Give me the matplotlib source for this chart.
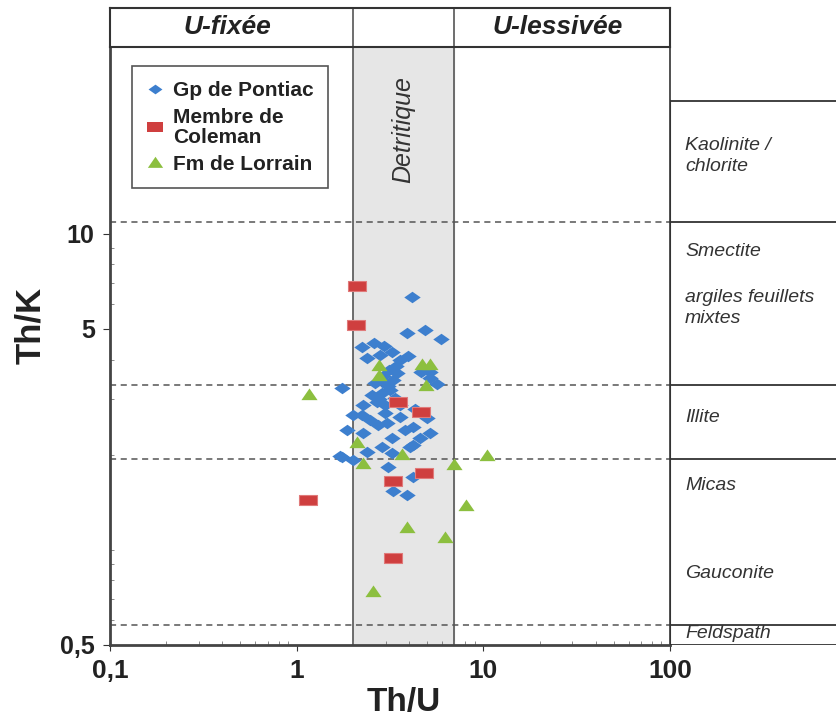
import matplotlib.pyplot as plt
from matplotlib.lines import Line2D

plt.rcParams['font.family'] = ['Liberation Sans', 'DejaVu Sans']

# Gp de Pontiac (Th/U, Th/K)
pontiac_x = [4.15, 3.90, 4.87, 5.93, 2.24, 2.59, 2.94, 3.24, 2.38, 2.79,
             3.58, 3.95, 3.12, 3.40, 4.63, 5.21, 5.21, 1.75, 2.97, 5.64,
             3.44, 2.63, 2.86, 2.69, 3.16, 3.36, 2.27, 2.24, 2.00, 2.97,
             3.58, 3.05, 4.99, 4.30, 1.86, 2.27, 3.24, 4.20, 5.21, 4.58,
             4.05, 2.86, 2.38, 3.24, 1.71, 2.00, 3.08, 4.20, 3.28, 3.90,
             4.20, 2.53, 2.97, 3.58, 2.47, 2.72, 3.80, 1.75, 2.90, 3.10,
             2.75, 3.30]
pontiac_y = [6.31, 4.86, 4.96, 4.65, 4.39, 4.51, 4.42, 4.23, 4.05, 4.14,
             3.99, 4.11, 3.71, 3.82, 3.66, 3.66, 3.50, 3.25, 3.40, 3.35,
             3.63, 3.37, 3.14, 2.94, 3.21, 3.02, 2.87, 2.67, 2.67, 2.71,
             2.63, 2.52, 2.62, 2.79, 2.39, 2.34, 2.26, 2.45, 2.34, 2.26,
             2.12, 2.12, 2.04, 2.03, 1.98, 1.92, 1.83, 1.70, 1.54, 1.49,
             2.15, 3.09, 2.87, 2.87, 2.58, 2.48, 2.39, 1.97, 3.55, 3.30,
             3.00, 3.45]

# Membre de Coleman
coleman_x = [2.10, 2.08, 3.49, 4.63, 4.81, 3.28, 1.15, 3.28]
coleman_y = [6.84, 5.15, 2.94, 2.73, 1.75, 1.65, 1.44, 0.94]

# Fm de Lorrain
lorrain_x = [1.16, 2.76, 2.76, 4.69, 5.18, 4.93, 2.10, 3.66, 2.27, 6.96,
             10.45, 8.07, 3.90, 6.23, 2.56]
lorrain_y = [3.11, 3.85, 3.58, 3.87, 3.87, 3.33, 2.19, 2.01, 1.88, 1.87,
             2.00, 1.39, 1.18, 1.10, 0.74]

# limites Th/K des domaines mineraux
limites = [0.58, 1.94, 3.33, 10.9]
haut_panneau = 26.3
detritique = [2, 7]

mineraux = ['Kaolinite /\nchlorite', 'Smectite', 'argiles feuillets\nmixtes',
            'Illite', 'Micas', 'Gauconite', 'Feldspath']
mineraux_y = [17.6, 8.76, 5.83, 2.63, 1.60, 0.84, 0.545]

x_ticks = [0.1, 1, 10, 100]
x_labels = ['0,1', '1', '10', '100']
y_ticks = [0.5, 5, 10]
y_labels = ['0,5', '5', '10']

xlim = (0.1, 100)
ylim = (0.5, 39)

bleu = '#3d7fce'
rouge = '#cf3f3f'
vert = '#8cbf3f'
trait = '#333333'

diamant = [(-1, 0), (0, 0.7), (1, 0), (0, -0.7), (-1, 0)]
rect = [(-1, -0.6), (1, -0.6), (1, 0.6), (-1, 0.6), (-1, -0.6)]
tri = [(-1, -0.7), (1, -0.7), (0, 0.75), (-1, -0.7)]

W, H = 837, 722
fig = plt.figure(figsize=(W / 100, H / 100), dpi=100)

# graphe principal
ax = fig.add_axes([110 / W, 77 / H, 560 / W, 598 / H])
ax.set_xscale('log')
ax.set_yscale('log')
ax.set_xlim(*xlim)
ax.set_ylim(*ylim)

ax.axvspan(detritique[0], detritique[1], color='#e6e6e6', zorder=0)
for v in detritique:
    ax.axvline(v, color='#555555', lw=1.2, zorder=1)
for l in limites:
    ax.axhline(l, color='#555555', lw=1.1, ls=(0, (4, 3)), zorder=1)

ax.scatter(pontiac_x, pontiac_y, marker=diamant, s=140, color=bleu, lw=0, zorder=3)
ax.scatter(coleman_x, coleman_y, marker=rect, s=165, color=rouge,
           edgecolor='#e07a7a', lw=0.8, zorder=4)
ax.scatter(lorrain_x, lorrain_y, marker=tri, s=135, color=vert, lw=0, zorder=4)

ax.text(3.74, 21.3, 'Detritique', rotation=90, ha='center', va='center',
        fontsize=18, style='italic', color='#333333')

ax.set_xticks(x_ticks)
ax.set_xticklabels(x_labels, fontsize=19, fontweight='bold', color='#222222')
ax.set_xticks([m * d for d in [0.1, 1, 10] for m in range(2, 10)], minor=True)
ax.set_xticklabels([], minor=True)
ax.set_yticks(y_ticks)
ax.set_yticklabels(y_labels, fontsize=18, fontweight='bold', color='#222222')
ax.set_yticks([0.6, 0.7, 0.8, 0.9, 1, 2, 3, 4, 6, 7, 8, 9], minor=True)
ax.set_yticklabels([], minor=True)
ax.tick_params(axis='x', which='major', direction='out', length=4, pad=6, color=trait)
ax.tick_params(axis='y', which='major', direction='out', length=5, pad=6, color=trait)
ax.tick_params(which='minor', direction='in', length=3, color='#777777')

for s in ['left', 'bottom']:
    ax.spines[s].set_linewidth(2)
    ax.spines[s].set_color('#444444')
for s in ['top', 'right']:
    ax.spines[s].set_linewidth(1.2)
    ax.spines[s].set_color(trait)

handles = [
    Line2D([], [], ls='none', marker=diamant, markersize=10, color=bleu, mew=0),
    Line2D([], [], ls='none', marker=rect, markersize=12, color=rouge, mew=0),
    Line2D([], [], ls='none', marker=tri, markersize=11, color=vert, mew=0),
]
leg = ax.legend(handles, ['Gp de Pontiac', 'Membre de\nColeman', 'Fm de Lorrain'],
                loc='upper left', bbox_to_anchor=(0.02, 0.985), frameon=True,
                fancybox=False, edgecolor='#555555', framealpha=1,
                handlelength=0.8, handletextpad=0.5, labelspacing=0.38,
                borderpad=0.7, prop={'size': 15, 'weight': 'bold'})
leg.get_frame().set_linewidth(1.2)
for t in leg.get_texts():
    t.set_color('#222222')
    t.set_linespacing(1.05)

# bandeau du haut
hdr = fig.add_axes([110 / W, (H - 47) / H, 560 / W, 39 / H])
hdr.set_xscale('log')
hdr.set_xlim(*xlim)
hdr.set_ylim(0, 1)
hdr.set_xticks([])
hdr.set_yticks([])
hdr.minorticks_off()
for v in detritique:
    hdr.axvline(v, color='#555555', lw=1.2)
for s in hdr.spines.values():
    s.set_linewidth(1.5)
    s.set_color(trait)
hdr.text(0.21, 0.5, 'U-fixée', transform=hdr.transAxes, ha='center', va='center',
         fontsize=19, fontweight='bold', style='italic', color='#222222')
hdr.text(0.80, 0.5, 'U-lessivée', transform=hdr.transAxes, ha='center', va='center',
         fontsize=19, fontweight='bold', style='italic', color='#222222')

# panneau des mineraux
rp = fig.add_axes([670 / W, 77 / H, 167 / W, 598 / H])
rp.set_yscale('log')
rp.set_ylim(*ylim)
rp.set_xlim(0, 1)
rp.axis('off')
for l in [ylim[0]] + limites + [haut_panneau]:
    rp.axhline(l, color=trait, lw=1.3)
rp.plot([0, 0], [ylim[0], haut_panneau], color=trait, lw=1.5)
for nom, y in zip(mineraux, mineraux_y):
    rp.text(0.09, y, nom, ha='left', va='center', fontsize=14, style='italic',
            color='#333333', linespacing=1.35)

fig.text(404 / W, 1 - 703 / H, 'Th/U', ha='center', va='center',
         fontsize=24, fontweight='bold', color='#222222')
fig.text(31 / W, 1 - 325 / H, 'Th/K', ha='center', va='center', rotation=90,
         fontsize=25, fontweight='bold', color='#222222')

fig.savefig('out.png', dpi=100)
